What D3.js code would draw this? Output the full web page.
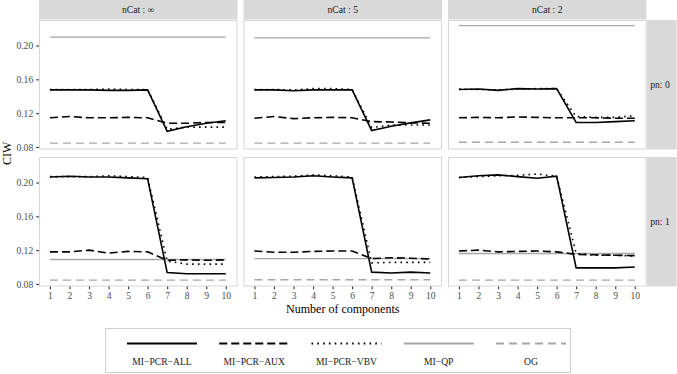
<!DOCTYPE html>
<html>
<head>
<meta charset="utf-8">
<script src="https://cdn.jsdelivr.net/npm/d3@7"></script>
<style>
  body { margin: 0; background: #fff; }
  text { font-family: "Liberation Serif", "DejaVu Serif", serif; }
</style>
</head>
<body>
<script>
// facet labels
var nCatLabels = ["nCat : \u221e", "nCat : 5", "nCat : 2"];
var pnLabels = ["pn: 0", "pn: 1"];
var xTicks = [1, 2, 3, 4, 5, 6, 7, 8, 9, 10];
var yTicks = [0.08, 0.12, 0.16, 0.20];
var seriesNames = ["MI\u2212PCR\u2212ALL", "MI\u2212PCR\u2212AUX", "MI\u2212PCR\u2212VBV", "MI\u2212QP", "OG"];

// one row of 10 values per panel, order: (pn0: inf,5,2), (pn1: inf,5,2)
var pcrAll = [
  [0.1475, 0.1475, 0.1475, 0.1470, 0.1470, 0.1475, 0.0985, 0.1040, 0.1080, 0.1110],
  [0.1475, 0.1475, 0.1465, 0.1475, 0.1475, 0.1475, 0.0995, 0.1045, 0.1085, 0.1120],
  [0.1480, 0.1485, 0.1470, 0.1490, 0.1485, 0.1490, 0.1090, 0.1090, 0.1100, 0.1110],
  [0.2065, 0.2075, 0.2065, 0.2065, 0.2055, 0.2045, 0.0935, 0.0920, 0.0920, 0.0920],
  [0.2055, 0.2060, 0.2065, 0.2080, 0.2065, 0.2055, 0.0940, 0.0930, 0.0940, 0.0930],
  [0.2060, 0.2080, 0.2090, 0.2070, 0.2050, 0.2075, 0.0990, 0.0990, 0.0990, 0.1000]
];
var pcrAux = [
  [0.1145, 0.1160, 0.1145, 0.1145, 0.1150, 0.1145, 0.1080, 0.1080, 0.1090, 0.1090],
  [0.1140, 0.1160, 0.1135, 0.1145, 0.1150, 0.1145, 0.1100, 0.1095, 0.1085, 0.1080],
  [0.1145, 0.1150, 0.1145, 0.1155, 0.1150, 0.1145, 0.1145, 0.1145, 0.1140, 0.1140],
  [0.1180, 0.1180, 0.1200, 0.1165, 0.1185, 0.1180, 0.1080, 0.1085, 0.1080, 0.1085],
  [0.1190, 0.1175, 0.1175, 0.1185, 0.1190, 0.1190, 0.1100, 0.1110, 0.1105, 0.1095],
  [0.1190, 0.1200, 0.1180, 0.1185, 0.1190, 0.1180, 0.1150, 0.1145, 0.1140, 0.1135]
];
var pcrVbv = [
  [0.1480, 0.1480, 0.1480, 0.1485, 0.1480, 0.1480, 0.1010, 0.1035, 0.1035, 0.1035],
  [0.1480, 0.1480, 0.1475, 0.1490, 0.1490, 0.1480, 0.1030, 0.1060, 0.1060, 0.1060],
  [0.1485, 0.1480, 0.1475, 0.1485, 0.1490, 0.1490, 0.1160, 0.1150, 0.1150, 0.1170],
  [0.2070, 0.2070, 0.2070, 0.2080, 0.2070, 0.2060, 0.1070, 0.1035, 0.1035, 0.1035],
  [0.2065, 0.2070, 0.2075, 0.2090, 0.2080, 0.2065, 0.1050, 0.1055, 0.1055, 0.1055],
  [0.2060, 0.2070, 0.2080, 0.2085, 0.2100, 0.2075, 0.1160, 0.1140, 0.1140, 0.1130]
];
var miQp = [
  [0.2100, 0.2100, 0.2100, 0.2100, 0.2100, 0.2100, 0.2100, 0.2100, 0.2100, 0.2100],
  [0.2090, 0.2090, 0.2090, 0.2090, 0.2090, 0.2090, 0.2090, 0.2090, 0.2090, 0.2090],
  [0.2235, 0.2235, 0.2235, 0.2235, 0.2235, 0.2235, 0.2235, 0.2235, 0.2235, 0.2235],
  [0.1090, 0.1090, 0.1090, 0.1090, 0.1090, 0.1090, 0.1090, 0.1090, 0.1090, 0.1090],
  [0.1100, 0.1100, 0.1100, 0.1100, 0.1100, 0.1100, 0.1100, 0.1100, 0.1100, 0.1100],
  [0.1160, 0.1160, 0.1160, 0.1160, 0.1160, 0.1160, 0.1160, 0.1160, 0.1160, 0.1160]
];
var og = [
  [0.0845, 0.0845, 0.0845, 0.0845, 0.0845, 0.0845, 0.0845, 0.0845, 0.0845, 0.0845],
  [0.0845, 0.0845, 0.0845, 0.0845, 0.0845, 0.0845, 0.0845, 0.0845, 0.0845, 0.0845],
  [0.0855, 0.0855, 0.0855, 0.0855, 0.0855, 0.0855, 0.0855, 0.0855, 0.0855, 0.0855],
  [0.0845, 0.0845, 0.0845, 0.0845, 0.0845, 0.0845, 0.0845, 0.0845, 0.0845, 0.0845],
  [0.0850, 0.0850, 0.0850, 0.0850, 0.0850, 0.0850, 0.0850, 0.0850, 0.0850, 0.0850],
  [0.0845, 0.0845, 0.0845, 0.0845, 0.0845, 0.0845, 0.0845, 0.0845, 0.0845, 0.0845]
];

var allSeries = [pcrAll, pcrAux, pcrVbv, miQp, og];
// line styles for each series
var styles = [
  {color: "#000", width: 1.6, dash: null},
  {color: "#000", width: 1.6, dash: "8,4"},
  {color: "#000", width: 1.6, dash: "1.6,4.2"},
  {color: "#a6a6a6", width: 1.4, dash: null},
  {color: "#a6a6a6", width: 1.4, dash: "8,5"}
];

var W = 677, H = 374;
var colX = [39, 243.5, 448], panelW = 198.5;
var rowY = [20, 157], panelH = 129.5;
var fs = 9.6;

var svg = d3.select("body").append("svg")
    .attr("width", W).attr("height", H);

var x = d3.scaleLinear().domain([0.44, 10.6]).range([0, panelW]);
var y = d3.scaleLinear().domain([0.077, 0.2302]).range([panelH, 0]);

// top strips
nCatLabels.forEach(function(lab, c) {
  svg.append("rect").attr("x", colX[c]).attr("y", 0)
    .attr("width", panelW).attr("height", 19.5).attr("fill", "#d9d9d9");
  svg.append("text").attr("x", colX[c] + panelW / 2).attr("y", 13.3)
    .attr("text-anchor", "middle").attr("font-size", fs).attr("fill", "#1a1a1a")
    .text(lab);
});
// right strips
pnLabels.forEach(function(lab, r) {
  svg.append("rect").attr("x", 647).attr("y", rowY[r])
    .attr("width", 29.5).attr("height", panelH).attr("fill", "#d9d9d9");
  svg.append("text").attr("x", 660).attr("y", rowY[r] + panelH / 2 + 3.3)
    .attr("text-anchor", "middle").attr("font-size", fs).attr("fill", "#1a1a1a")
    .text(lab);
});

var line = d3.line().x(function(d, i) { return x(xTicks[i]); }).y(function(d) { return y(d); });

for (var r = 0; r < 2; r++) {
  for (var c = 0; c < 3; c++) {
    var p = r * 3 + c;
    var g = svg.append("g").attr("transform", "translate(" + colX[c] + "," + rowY[r] + ")");
    g.append("rect").attr("x", 0.5).attr("y", 0.5)
      .attr("width", panelW - 1).attr("height", panelH - 1)
      .attr("fill", "#fff").attr("stroke", "#d6d6d6").attr("stroke-width", 1);

    // draw grey lines first, black on top
    [4, 3, 1, 2, 0].forEach(function(s) {
      g.append("path").datum(allSeries[s][p])
        .attr("d", line)
        .attr("fill", "none")
        .attr("stroke", styles[s].color)
        .attr("stroke-width", styles[s].width)
        .attr("stroke-dasharray", styles[s].dash);
    });

    if (c == 0) {
      var ya = g.append("g").call(d3.axisLeft(y).tickValues(yTicks)
        .tickFormat(d3.format(".2f")).tickSize(2.8).tickPadding(3));
      ya.select(".domain").remove();
      ya.selectAll("line").attr("stroke", "#333").attr("stroke-width", 1.1);
      ya.selectAll("text").attr("font-size", fs).attr("fill", "#4d4d4d")
        .attr("font-family", "Liberation Serif, serif");
    }
    if (r == 1) {
      var xa = g.append("g").attr("transform", "translate(0," + panelH + ")")
        .call(d3.axisBottom(x).tickValues(xTicks).tickSize(2.8).tickPadding(2.5));
      xa.select(".domain").remove();
      xa.selectAll("line").attr("stroke", "#333").attr("stroke-width", 1.1);
      xa.selectAll("text").attr("font-size", fs).attr("fill", "#4d4d4d")
        .attr("font-family", "Liberation Serif, serif");
    }
  }
}

// axis titles
svg.append("text").attr("x", (colX[0] + colX[2] + panelW) / 2).attr("y", 313)
  .attr("text-anchor", "middle").attr("font-size", 12).attr("fill", "#000")
  .text("Number of components");
svg.append("text").attr("transform", "translate(11," + ((rowY[0] + rowY[1] + panelH) / 2) + ") rotate(-90)")
  .attr("text-anchor", "middle").attr("font-size", 12).attr("fill", "#000")
  .text("CIW");

// legend
var lg = svg.append("g");
lg.append("rect").attr("x", 105.5).attr("y", 328.5).attr("width", 465).attr("height", 44)
  .attr("fill", "#fff").attr("stroke", "#cfcfcf").attr("stroke-width", 1);
var keyX = d3.scalePoint().domain(seriesNames).range([162, 531]);
seriesNames.forEach(function(name, s) {
  var cx = keyX(name);
  lg.append("line").attr("x1", cx - 35).attr("x2", cx + 35)
    .attr("y1", 343.5).attr("y2", 343.5)
    .attr("stroke", styles[s].color).attr("stroke-width", styles[s].width + 0.4)
    .attr("stroke-dasharray", styles[s].dash);
  lg.append("text").attr("x", cx).attr("y", 365)
    .attr("text-anchor", "middle").attr("font-size", fs).attr("fill", "#1a1a1a")
    .text(name);
});
</script>
</body>
</html>
